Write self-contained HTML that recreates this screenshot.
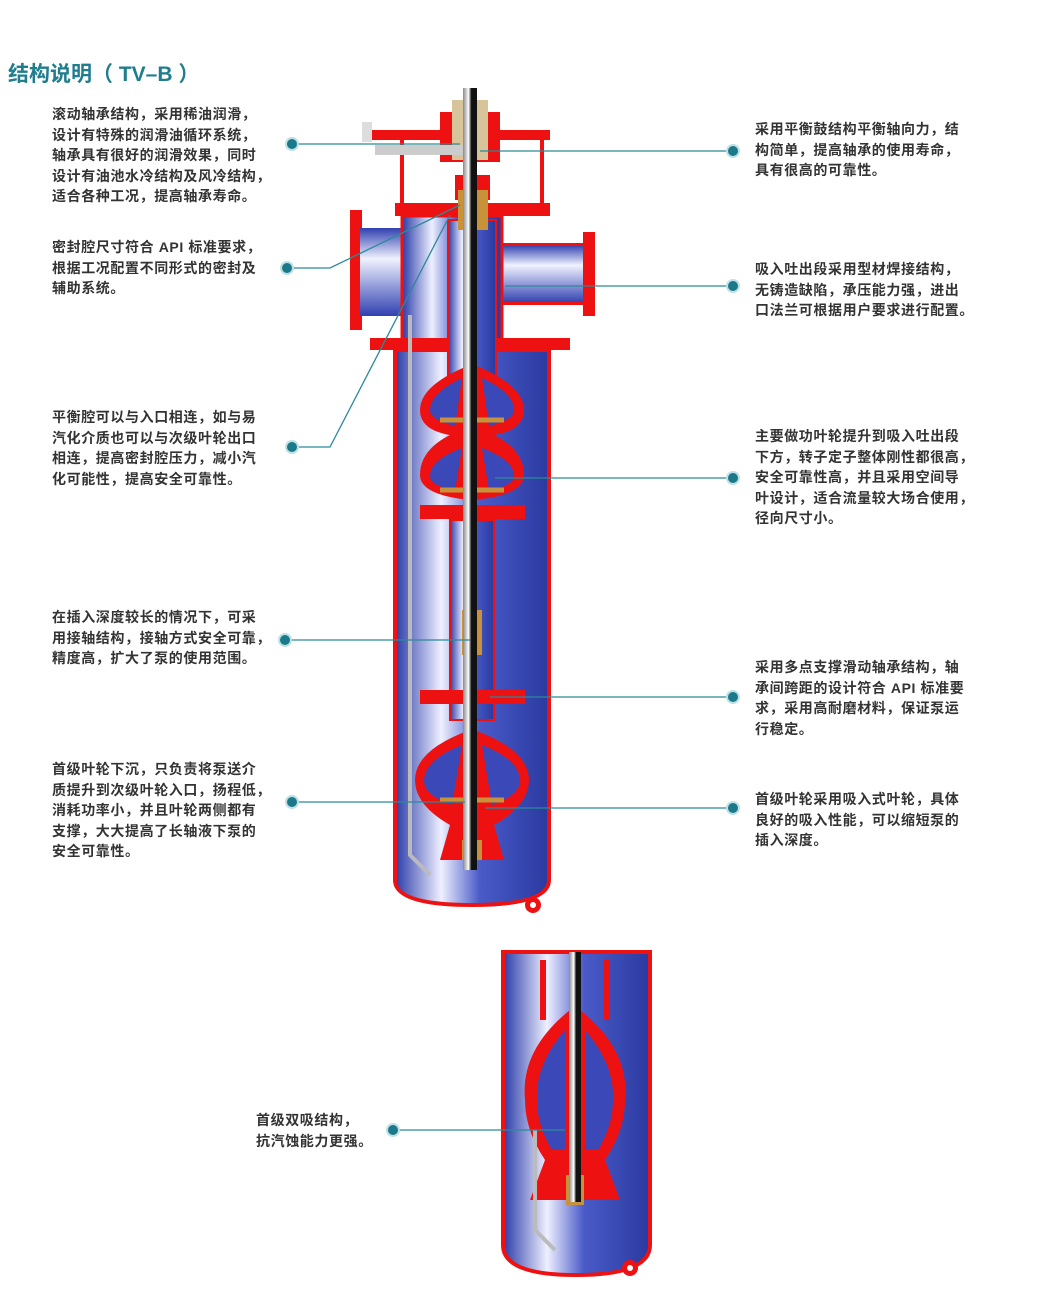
<!DOCTYPE html>
<html><head><meta charset="utf-8"><style>
body{margin:0;background:#fff;width:1037px;height:1290px;overflow:hidden;position:relative;font-family:"Liberation Sans","Noto Sans CJK SC",sans-serif}
.t{position:absolute;font-size:14px;letter-spacing:0.6px;line-height:20.6px;color:#333;font-weight:bold;white-space:nowrap}
h1{position:absolute;left:8px;top:58px;margin:0;font-size:21px;color:#1f7d8e;font-weight:bold}
</style></head><body>
<svg width="1037" height="1290" style="position:absolute;left:0;top:0">
<defs>
<linearGradient id="b" x1="0" x2="1"><stop offset="0" stop-color="#2a3aa8"/><stop offset=".3" stop-color="#eef0ff"/><stop offset=".55" stop-color="#4a5ac8"/><stop offset="1" stop-color="#2a3aa0"/></linearGradient>
<linearGradient id="bv" x1="0" y1="0" x2="0" y2="1"><stop offset="0" stop-color="#3040b0"/><stop offset=".35" stop-color="#f0f2ff"/><stop offset="1" stop-color="#3040b0"/></linearGradient>
<linearGradient id="s" x1="0" x2="1"><stop offset="0" stop-color="#888"/><stop offset=".4" stop-color="#fff"/><stop offset=".6" stop-color="#111"/><stop offset="1" stop-color="#111"/></linearGradient>
</defs>
<rect x="365" y="130" width="185" height="10" fill="#e11"/>
<rect x="400" y="140" width="4" height="65" fill="#e11"/><rect x="540" y="140" width="4" height="65" fill="#e11"/>
<path d="M440 112 h60 v50 h-60z" fill="#e11"/><rect x="452" y="100" width="36" height="60" fill="#d8c49a"/>
<rect x="375" y="145" width="90" height="10" fill="#ccc"/><rect x="362" y="122" width="10" height="20" fill="#ddd"/>
<rect x="455" y="175" width="35" height="25" fill="#e11"/>
<rect x="395" y="203" width="155" height="13" fill="#e11"/>
<rect x="350" y="210" width="12" height="120" fill="#e11"/>
<rect x="360" y="228" width="45" height="88" fill="url(#bv)"/>
<rect x="500" y="245" width="85" height="58" fill="url(#bv)"/>
<rect x="583" y="232" width="12" height="84" fill="#e11"/>
<rect x="500" y="243" width="85" height="3" fill="#e11"/><rect x="500" y="302" width="85" height="3" fill="#e11"/>
<rect x="402" y="216" width="100" height="124" fill="url(#b)" stroke="#e11" stroke-width="3"/>
<rect x="370" y="338" width="200" height="12" fill="#e11"/>
<path d="M395 350 H549 V880 Q549 905 472 905 Q395 905 395 880 Z" fill="url(#b)" stroke="#e11" stroke-width="4"/>
<circle cx="533" cy="905" r="8" fill="#e11"/><circle cx="533" cy="905" r="3" fill="#fff"/>
<path d="M410 315 v540 l20 20" stroke="#bbb" stroke-width="4" fill="none"/>
<rect x="448" y="220" width="48" height="160" fill="url(#b)" stroke="#e11" stroke-width="2"/>
<rect x="450" y="520" width="44" height="200" fill="url(#b)" stroke="#e11" stroke-width="2"/>
<g fill="#e11">
<path d="M470 365 q-50 20 -50 45 q0 20 30 25 q-30 15 -30 40 q0 20 50 25 z"/>
<path d="M474 365 q50 20 50 45 q0 20 -30 25 q30 15 30 40 q0 20 -50 25 z"/>
<rect x="420" y="505" width="105" height="14" />
<rect x="420" y="690" width="105" height="14"/>
<path d="M470 730 q-55 20 -55 50 q0 25 35 45 l-10 35 l30 0 z"/>
<path d="M474 730 q55 20 55 50 q0 25 -35 45 l10 35 l-30 0 z"/>
</g>
<g fill="#3a48b8">
<path d="M462 378 q-32 15 -32 32 q0 10 25 16 z M482 378 q32 15 32 32 q0 10 -25 16 z"/>
<path d="M462 448 q-32 12 -32 28 q0 10 25 14 z M482 448 q32 12 32 28 q0 10 -25 14 z"/>
<path d="M462 745 q-38 15 -38 36 q0 14 28 24 z M482 745 q38 15 38 36 q0 14 -28 24 z"/>
</g>
<rect x="458" y="190" width="30" height="40" fill="#c8923a"/>
<rect x="462" y="610" width="20" height="45" fill="#c8923a"/>
<rect x="462" y="840" width="20" height="20" fill="#c8923a"/>
<path d="M440 420 h64 M440 490 h64 M440 800 h64" stroke="#c8923a" stroke-width="5"/>
<rect x="463" y="88" width="14" height="782" fill="url(#s)"/>
<path d="M503 952 H650 V1245 Q650 1275 576 1275 Q503 1275 503 1245 Z" fill="url(#b)" stroke="#e11" stroke-width="4"/>
<circle cx="630" cy="1268" r="8" fill="#e11"/><circle cx="630" cy="1268" r="3" fill="#fff"/>
<g fill="#e11">
<path d="M570 1010 q-50 40 -45 90 q0 30 20 60 l-15 40 h40 z"/>
<path d="M580 1010 q50 40 45 90 q0 30 -20 60 l15 40 h-40 z"/>
<rect x="540" y="960" width="6" height="60"/><rect x="604" y="960" width="6" height="60"/>
</g>
<path d="M565 1030 q-30 35 -28 70 q0 25 15 50 l13 0 z M585 1030 q30 35 28 70 q0 25 -15 50 l-13 0 z" fill="#3a48b8"/>
<rect x="566" y="1175" width="18" height="30" fill="#c8923a"/>
<rect x="569" y="952" width="12" height="250" fill="url(#s)"/>
<path d="M535 1130 v100 l20 20" stroke="#bbb" stroke-width="4" fill="none"/>
<g stroke="#2a8a98" stroke-width="1.3" fill="none">
<path d="M292 144 H460"/><path d="M287 268 H330 L460 205"/><path d="M292 447 H330 L450 215"/>
<path d="M285 640 H470"/><path d="M292 802 H465"/>
<path d="M733 151 H480"/><path d="M733 286 H505"/><path d="M733 478 H495"/><path d="M733 697 H490"/><path d="M733 808 H485"/>
<path d="M393 1130 H565"/>
</g>
<g fill="#1a7a8a" stroke="#bfe0e6" stroke-width="2">
<circle cx="292" cy="144" r="6"/><circle cx="287" cy="268" r="6"/><circle cx="292" cy="447" r="6"/><circle cx="285" cy="640" r="6"/><circle cx="292" cy="802" r="6"/>
<circle cx="733" cy="151" r="6"/><circle cx="733" cy="286" r="6"/><circle cx="733" cy="478" r="6"/><circle cx="733" cy="697" r="6"/><circle cx="733" cy="808" r="6"/>
<circle cx="393" cy="1130" r="6"/>
</g>
</svg>
<h1>结构说明（ TV–B ）</h1>
<div class="t" style="left:52px;top:104px">滚动轴承结构，采用稀油润滑，<br>设计有特殊的润滑油循环系统，<br>轴承具有很好的润滑效果，同时<br>设计有油池水冷结构及风冷结构，<br>适合各种工况，提高轴承寿命。</div>
<div class="t" style="left:52px;top:237px">密封腔尺寸符合 API 标准要求，<br>根据工况配置不同形式的密封及<br>辅助系统。</div>
<div class="t" style="left:52px;top:407px">平衡腔可以与入口相连，如与易<br>汽化介质也可以与次级叶轮出口<br>相连，提高密封腔压力，减小汽<br>化可能性，提高安全可靠性。</div>
<div class="t" style="left:52px;top:607px">在插入深度较长的情况下，可采<br>用接轴结构，接轴方式安全可靠，<br>精度高，扩大了泵的使用范围。</div>
<div class="t" style="left:52px;top:759px">首级叶轮下沉，只负责将泵送介<br>质提升到次级叶轮入口，扬程低，<br>消耗功率小，并且叶轮两侧都有<br>支撑，大大提高了长轴液下泵的<br>安全可靠性。</div>
<div class="t" style="left:755px;top:119px">采用平衡鼓结构平衡轴向力，结<br>构简单，提高轴承的使用寿命，<br>具有很高的可靠性。</div>
<div class="t" style="left:755px;top:259px">吸入吐出段采用型材焊接结构，<br>无铸造缺陷，承压能力强，进出<br>口法兰可根据用户要求进行配置。</div>
<div class="t" style="left:755px;top:426px">主要做功叶轮提升到吸入吐出段<br>下方，转子定子整体刚性都很高，<br>安全可靠性高，并且采用空间导<br>叶设计，适合流量较大场合使用，<br>径向尺寸小。</div>
<div class="t" style="left:755px;top:657px">采用多点支撑滑动轴承结构，轴<br>承间跨距的设计符合 API 标准要<br>求，采用高耐磨材料，保证泵运<br>行稳定。</div>
<div class="t" style="left:755px;top:789px">首级叶轮采用吸入式叶轮，具体<br>良好的吸入性能，可以缩短泵的<br>插入深度。</div>
<div class="t" style="left:256px;top:1110px">首级双吸结构，<br>抗汽蚀能力更强。</div>
</body></html>
